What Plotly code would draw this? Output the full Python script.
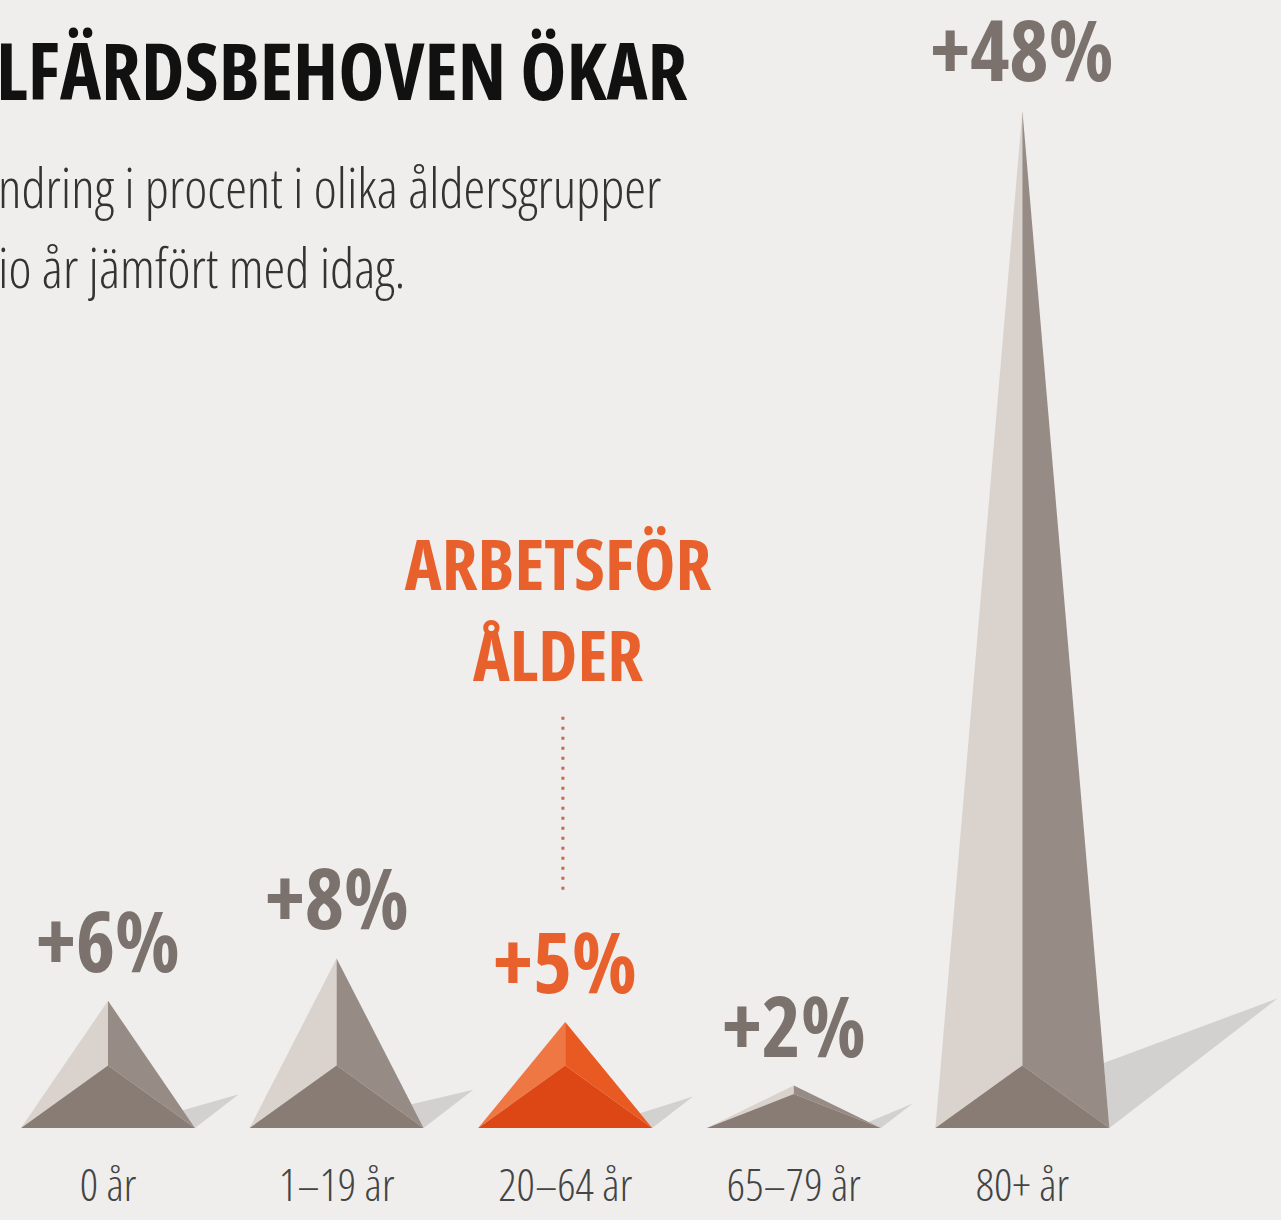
import plotly.graph_objects as go

# ---------------- data ----------------
categories = ["0 år", "1–19 år", "20–64 år", "65–79 år", "80+ år"]
values = [6, 8, 5, 2, 48]
highlight = [False, False, True, False, False]

title_text = "LFÄRDSBEHOVEN ÖKAR"
subtitle_lines = ["ndring i procent i olika åldersgrupper", "io år jämfört med idag."]
callout_text = "ARBETSFÖR<br>ÅLDER"

# ---------------- layout geometry ----------------
W, H = 1281, 1220
MB = 70
PX_X = 228.6          # pixels per category step
X0 = 108              # pixel of first category centre
PX_Y = 21.2           # pixels per percent
BASE_PX = 1128        # pixel row of the baseline

plot_h = H - MB
xr = [-X0 / PX_X, (W - X0) / PX_X]
yr = [-(plot_h - BASE_PX) / PX_Y, BASE_PX / PX_Y]
hw = 87 / PX_X        # half base width in category units

BG = "#efeeec"
GRAY = dict(light="#dad3cd", right="#968b85", front="#887c74", label="#7c726d")
ORANGE = dict(light="#ef7743", right="#e95922", front="#dd4716", label="#e8602b")
SHADOW = "#d3d1cf"

FONT = "Open Sans, Liberation Sans Narrow, DejaVu Sans Condensed, sans-serif"

fig = go.Figure()


def poly(xs, ys, color):
    fig.add_trace(go.Scatter(x=xs + [xs[0]], y=ys + [ys[0]], mode="lines", fill="toself",
                             fillcolor=color, line=dict(width=0, color=color),
                             hoverinfo="skip", showlegend=False))


for i, (cat, v, hl) in enumerate(zip(categories, values, highlight)):
    pal = ORANGE if hl else GRAY
    cx = i
    inner = min(2.95, 0.8 * v)
    # shadow wedge to the right
    dx_px = 26 + 0.14 * v * PX_Y
    dx = dx_px / PX_X
    dy = 0.77 * dx_px / PX_Y
    s = min(0.14 * v, 3.07)
    poly([cx + hw, cx + hw + dx, cx + hw * (1 - s / v)], [0, dy, s], SHADOW)
    # faces
    poly([cx - hw, cx, cx], [0, v, inner], pal["light"])
    poly([cx, cx + hw, cx], [v, 0, inner], pal["right"])
    poly([cx - hw, cx, cx + hw], [0, inner, 0], pal["front"])
    # value label
    fig.add_annotation(x=cx, y=v, text=f"+{v}%", showarrow=False, yanchor="bottom",
                       yshift=2, font=dict(family=FONT, size=84, color=pal["label"], weight="bold"))

# dotted leader
fig.add_trace(go.Scatter(x=[1.99, 1.99], y=[19.4, 11.2], mode="lines",
                         line=dict(color="#c8694a", width=3, dash="3px,7px"),
                         hoverinfo="skip", showlegend=False))
fig.add_annotation(x=1.97, y=24.5, text=callout_text, showarrow=False, yanchor="middle",
                   font=dict(family=FONT, size=70, color=ORANGE["label"], weight="bold"))

# title + subtitle
fig.add_annotation(xref="paper", yref="paper", x=0, xshift=-6, y=1 - 70 / plot_h,
                   xanchor="left", align="left", yanchor="middle", text=title_text,
                   showarrow=False,
                   font=dict(family=FONT, size=78, color="#111111", weight="bold"))
for k, line in enumerate(subtitle_lines):
    fig.add_annotation(xref="paper", yref="paper", x=0, xshift=-4, y=1 - (186 + 80 * k) / plot_h,
                       xanchor="left", align="left", yanchor="middle", text=line,
                       showarrow=False,
                       font=dict(family=FONT, size=55, color="#333333", weight=300))

fig.update_xaxes(range=xr, tickvals=list(range(len(categories))), ticktext=categories,
                 showgrid=False, zeroline=False, showline=False, ticks="", automargin=False,
                 tickfont=dict(family=FONT, size=45, color="#444444", weight=300),
                 ticklabelstandoff=5)
fig.update_yaxes(range=yr, visible=False, showgrid=False, zeroline=False, automargin=False)
fig.update_layout(width=W, height=H, margin=dict(l=0, r=0, t=0, b=MB, pad=0,
                                                 autoexpand=False),
                  paper_bgcolor=BG, plot_bgcolor=BG)

post = """
document.body.style.margin = '0';
var st = document.createElement('style');
st.textContent = 'text.annotation-text, .xtick text {font-stretch: 75%;}';
document.head.appendChild(st);
"""

fig.write_html("out.html", post_script=post, config={"displayModeBar": False})
